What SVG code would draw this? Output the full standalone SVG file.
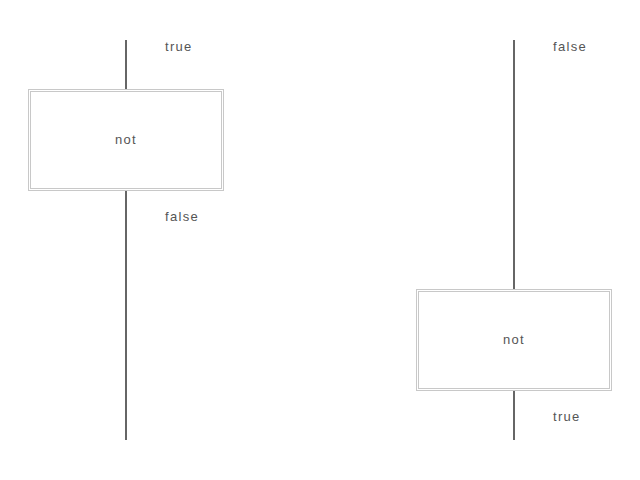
<svg xmlns="http://www.w3.org/2000/svg" width="640" height="480" viewBox="0 0 640 480">
<style>
.box{fill:#fff;stroke:#c8c8c8;stroke-width:1}
.wire{stroke:#333;stroke-width:1.5;fill:none}
text{font-family:"Liberation Sans",Arial,sans-serif;font-size:13px;fill:#555;letter-spacing:1.3px}
</style>
<rect width="640" height="480" fill="#fff"/>
<g id="connectors">
<line class="wire" x1="126" y1="40" x2="126" y2="89"/>
<line class="wire" x1="126" y1="190" x2="126" y2="440"/>
<line class="wire" x1="514" y1="40" x2="514" y2="290"/>
<line class="wire" x1="514" y1="390" x2="514" y2="440"/>
<text x="165" y="51">true</text>
<text x="165" y="221">false</text>
<text x="553" y="51">false</text>
<text x="553" y="421">true</text>
</g>
<g id="not1">
<rect class="box" x="28.5" y="89.5" width="195" height="101"/>
<rect class="box" x="30.5" y="91.5" width="191" height="97"/>
<text x="115" y="144">not</text>
</g>
<g id="not2">
<rect class="box" x="416.5" y="289.5" width="195" height="101"/>
<rect class="box" x="418.5" y="291.5" width="191" height="97"/>
<text x="503" y="344">not</text>
</g>
</svg>
